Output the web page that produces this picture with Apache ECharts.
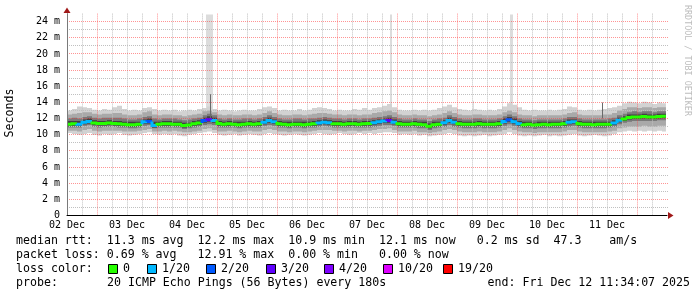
<!DOCTYPE html>
<html><head><meta charset="utf-8">
<script src="https://cdn.jsdelivr.net/npm/echarts@6.0.0/dist/echarts.min.js"></script>
<style>html,body{margin:0;padding:0;background:#fff}#c{width:697px;height:297px}</style>
</head><body><div id="c"></div>
<script>
// ---- data (hours since 02 Dec 00:00; values in ms) ----
const startHour = 12;
const stepHours = 2;
const endHour = 251.57;
const xTickLabels = ['02 Dec','03 Dec','04 Dec','05 Dec','06 Dec','07 Dec','08 Dec','09 Dec','10 Dec','11 Dec'];
const yTickValues = [0,2,4,6,8,10,12,14,16,18,20,22,24];

const medianRtt = [
11.3,11.35,11.3,11.55,11.65,11.45,11.4,11.4,11.45,11.4,
11.35,11.3,11.25,11.25,11.3,11.6,11.65,11.15,11.3,11.35,
11.35,11.3,11.3,11.15,11.2,11.35,11.45,11.75,11.85,11.75,
11.4,11.3,11.35,11.3,11.25,11.3,11.35,11.3,11.35,11.55,
11.75,11.6,11.35,11.3,11.25,11.3,11.3,11.25,11.3,11.35,
11.45,11.55,11.5,11.35,11.35,11.3,11.35,11.35,11.3,11.35,
11.4,11.5,11.6,11.7,11.75,11.55,11.35,11.3,11.3,11.35,
11.3,11.25,11.05,11.25,11.3,11.5,11.75,11.55,11.35,11.3,
11.3,11.3,11.35,11.3,11.3,11.3,11.35,11.65,11.85,11.6,
11.35,11.25,11.3,11.2,11.25,11.3,11.25,11.3,11.3,11.35,
11.55,11.6,11.35,11.3,11.3,11.25,11.3,11.3,11.3,11.45,
11.8,11.95,12.15,12.2,12.2,12.25,12.2,12.2,12.25,12.3];

const lossIdx = [
0,0,1,1,1,0,0,0,0,0,
0,0,0,0,0,1,2,1,0,0,
0,0,0,0,0,0,0,2,3,1,
0,0,0,0,0,0,0,0,0,1,
1,1,0,0,0,0,0,0,0,0,
1,1,1,0,0,0,0,0,0,0,
0,1,1,1,3,1,0,0,0,0,
0,0,0,0,0,1,1,1,0,0,
0,0,0,0,0,0,0,1,2,1,
1,0,0,0,0,0,0,0,0,0,
1,1,0,0,0,0,0,0,0,1,
1,0,0,0,0,0,0,0,0,0];

const lossColors = ['#26ff00','#00b8ff','#0059ff','#5e00ff','#7e00ff','#dd00ff','#ff0000'];
const lossLabels = ['0','1/20','2/20','3/20','4/20','10/20','19/20'];

const smokeHi1 = [
13.0,13.2,13.5,13.4,13.3,13.1,13.0,13.2,13.1,13.4,
13.6,13.2,13.0,13.1,13.0,13.3,13.4,13.2,13.0,13.1,
13.0,13.1,12.9,13.0,13.1,13.0,13.2,13.3,13.5,13.2,
13.0,13.1,13.0,12.9,13.0,13.1,13.0,13.0,13.2,13.4,
13.5,13.3,13.0,13.1,13.0,13.0,13.2,13.0,13.1,13.3,
13.4,13.3,13.2,13.0,13.1,13.0,13.0,13.2,13.1,13.3,
13.1,13.3,13.4,13.6,13.8,13.4,13.1,13.0,13.0,13.1,
13.0,13.1,13.0,13.1,13.3,13.5,13.7,13.4,13.2,13.1,
13.0,13.2,13.1,13.0,13.1,13.0,13.2,13.5,13.9,13.7,
13.4,13.1,13.0,13.1,13.0,13.0,13.1,13.0,13.1,13.2,
13.5,13.4,13.1,13.0,13.1,13.0,13.1,13.2,13.3,13.4,
13.6,13.9,14.1,14.0,13.9,14.1,14.0,13.8,14.0,13.9];
const smokeLo1 = [
10.2,10.1,10.0,10.1,10.2,10.0,9.9,10.1,10.0,10.1,
10.2,10.0,9.9,10.0,10.1,10.2,10.3,10.1,10.0,10.1,
10.0,10.1,9.9,9.8,10.0,10.1,10.2,10.3,10.4,10.2,
10.0,9.9,10.0,10.1,9.9,10.0,10.1,10.0,9.9,10.1,
10.2,10.1,10.0,9.9,10.0,10.1,10.0,9.9,10.0,10.1,
10.2,10.1,10.0,10.1,10.2,10.1,10.0,10.1,10.2,10.1,
10.2,10.1,10.2,10.3,10.3,10.2,10.0,10.1,10.0,10.1,
9.9,10.0,9.8,9.9,10.0,10.1,10.2,10.1,9.9,9.8,
9.9,9.8,9.9,10.0,9.8,9.9,10.0,10.1,10.3,10.1,
9.9,9.8,9.9,9.8,9.9,10.0,9.8,9.9,9.8,9.9,
10.0,10.1,9.9,9.8,9.9,10.0,9.9,9.8,9.9,10.1,
10.3,10.4,10.5,10.4,10.5,10.4,10.5,10.4,10.5,10.4];
const smokeHi2 = [
12.5,12.6,12.7,12.8,12.8,12.6,12.5,12.6,12.6,12.7,
12.7,12.5,12.4,12.4,12.5,12.8,12.9,12.5,12.4,12.5,
12.5,12.4,12.4,12.3,12.4,12.5,12.6,12.9,13.0,12.8,
12.5,12.4,12.5,12.4,12.4,12.5,12.5,12.4,12.5,12.7,
12.9,12.7,12.5,12.4,12.4,12.5,12.5,12.4,12.5,12.6,
12.7,12.7,12.6,12.5,12.5,12.4,12.5,12.5,12.4,12.5,
12.5,12.7,12.8,12.9,13.0,12.8,12.5,12.4,12.4,12.5,
12.4,12.4,12.3,12.4,12.5,12.7,12.9,12.7,12.5,12.4,
12.4,12.5,12.5,12.4,12.4,12.4,12.5,12.8,13.0,12.8,
12.5,12.4,12.4,12.3,12.4,12.4,12.4,12.4,12.4,12.5,
12.7,12.8,12.5,12.4,12.4,12.4,12.4,12.5,12.5,12.7,
13.0,13.2,13.4,13.4,13.3,13.4,13.4,13.3,13.4,13.4];
const smokeLo2 = [
10.5,10.5,10.4,10.6,10.7,10.5,10.4,10.5,10.5,10.5,
10.5,10.4,10.4,10.4,10.5,10.6,10.7,10.4,10.4,10.5,
10.4,10.5,10.4,10.3,10.3,10.4,10.5,10.7,10.8,10.6,
10.4,10.4,10.5,10.4,10.3,10.4,10.5,10.4,10.4,10.6,
10.7,10.6,10.4,10.4,10.3,10.4,10.4,10.3,10.4,10.5,
10.6,10.6,10.6,10.5,10.5,10.4,10.5,10.5,10.4,10.5,
10.5,10.6,10.7,10.7,10.8,10.6,10.4,10.4,10.4,10.5,
10.3,10.3,10.2,10.3,10.4,10.6,10.7,10.6,10.4,10.3,
10.3,10.3,10.4,10.3,10.3,10.3,10.4,10.6,10.8,10.6,
10.4,10.3,10.3,10.2,10.3,10.3,10.3,10.3,10.3,10.4,
10.6,10.6,10.4,10.3,10.3,10.3,10.3,10.3,10.4,10.5,
10.8,10.9,11.0,11.0,11.0,11.1,11.0,11.0,11.1,11.1];
const smokeHi3 = [
12.0,12.1,12.0,12.2,12.3,12.1,12.0,12.1,12.1,12.1,
12.1,12.0,11.9,11.9,12.0,12.2,12.3,12.0,11.9,12.0,
12.0,12.0,11.9,11.8,11.9,12.0,12.1,12.4,12.6,12.4,
12.0,11.9,12.0,11.9,11.9,12.0,12.0,11.9,12.0,12.2,
12.4,12.2,12.0,11.9,11.9,12.0,12.0,11.9,12.0,12.0,
12.1,12.2,12.1,12.0,12.0,11.9,12.0,12.0,11.9,12.0,
12.0,12.1,12.2,12.3,12.4,12.2,12.0,11.9,11.9,12.0,
11.9,11.9,11.7,11.9,12.0,12.1,12.4,12.2,12.0,11.9,
11.9,12.0,12.0,11.9,11.9,11.9,12.0,12.3,12.5,12.3,
12.0,11.9,11.9,11.8,11.9,11.9,11.9,11.9,11.9,12.0,
12.2,12.2,12.0,11.9,11.9,11.9,11.9,11.9,12.0,12.1,
12.4,12.6,12.8,12.9,12.8,12.9,12.9,12.8,12.9,12.9];
const smokeLo3 = [
10.9,10.9,10.9,11.1,11.2,11.0,10.9,11.0,11.0,11.0,
10.9,10.9,10.8,10.8,10.9,11.1,11.2,10.8,10.9,10.9,
10.9,10.9,10.9,10.7,10.8,10.9,11.0,11.2,11.3,11.2,
10.9,10.9,10.9,10.9,10.8,10.9,10.9,10.9,10.9,11.1,
11.2,11.1,10.9,10.9,10.8,10.9,10.9,10.8,10.9,10.9,
11.0,11.1,11.0,10.9,10.9,10.9,10.9,10.9,10.9,10.9,
10.9,11.0,11.1,11.2,11.2,11.1,10.9,10.9,10.9,10.9,
10.8,10.8,10.6,10.8,10.9,11.0,11.2,11.0,10.9,10.8,
10.8,10.8,10.9,10.8,10.8,10.8,10.9,11.1,11.3,11.1,
10.9,10.8,10.8,10.7,10.8,10.8,10.8,10.8,10.8,10.9,
11.0,11.1,10.9,10.8,10.8,10.8,10.8,10.8,10.9,11.0,
11.3,11.5,11.6,11.7,11.7,11.7,11.7,11.7,11.8,11.8];
const smokeHi4 = [
11.7,11.7,11.7,11.9,12.0,11.8,11.7,11.7,11.8,11.7,
11.7,11.6,11.6,11.6,11.6,11.9,12.0,11.6,11.6,11.7,
11.7,11.6,11.6,11.5,11.5,11.7,11.8,12.1,12.3,12.1,
11.7,11.6,11.7,11.6,11.6,11.6,11.7,11.6,11.7,11.9,
12.1,11.9,11.7,11.6,11.6,11.6,11.6,11.6,11.6,11.7,
11.8,11.9,11.8,11.7,11.7,11.6,11.7,11.7,11.6,11.7,
11.7,11.8,11.9,12.0,12.1,11.9,11.7,11.6,11.6,11.7,
11.6,11.6,11.4,11.6,11.6,11.8,12.1,11.9,11.7,11.6,
11.6,11.6,11.7,11.6,11.6,11.6,11.7,12.0,12.2,12.0,
11.7,11.6,11.6,11.5,11.6,11.6,11.6,11.6,11.6,11.7,
11.9,11.9,11.7,11.6,11.6,11.6,11.6,11.6,11.6,11.8,
12.1,12.3,12.5,12.5,12.5,12.6,12.5,12.5,12.6,12.6];
const smokeLo4 = [
11.05,11.1,11.05,11.3,11.4,11.2,11.15,11.15,11.2,11.15,
11.1,11.05,11.0,11.0,11.05,11.35,11.4,10.9,11.05,11.1,
11.1,11.05,11.05,10.9,10.95,11.1,11.2,11.5,11.6,11.5,
11.15,11.05,11.1,11.05,11.0,11.05,11.1,11.05,11.1,11.3,
11.5,11.35,11.1,11.05,11.0,11.05,11.05,11.0,11.05,11.1,
11.2,11.3,11.25,11.1,11.1,11.05,11.1,11.1,11.05,11.1,
11.15,11.25,11.35,11.45,11.5,11.3,11.1,11.05,11.05,11.1,
11.05,11.0,10.8,11.0,11.05,11.25,11.5,11.3,11.1,11.05,
11.05,11.05,11.1,11.05,11.05,11.05,11.1,11.4,11.6,11.35,
11.1,11.0,11.05,10.95,11.0,11.05,11.0,11.05,11.05,11.1,
11.3,11.35,11.1,11.05,11.05,11.0,11.05,11.05,11.05,11.2,
11.55,11.7,11.9,11.95,11.95,12.0,11.95,11.95,12.0,12.05];

// single-column outliers (hours start/end, low/high ms)
const paleSpikeStart = [67.6, 141.2, 189.2, 174.4];
const paleSpikeEnd   = [70.4, 142.0, 190.4, 174.8];
const paleSpikeTop   = [24.9, 24.9, 24.9, 14.2];
const darkSpikeStart = [69.2, 226.0];
const darkSpikeEnd   = [69.6, 226.4];
const darkSpikeTop   = [15.0, 14.0];

// ---- chart ----
const GRID = {left: 67, top: 13.6, width: 600, height: 201.9};
const smokeColors = ['#d2d2d2', '#a9a9a9', '#797979', '#414141'];
const gridGray = '#c0c0c0', gridRed = '#ff3c3c';
const monoFont = 'DejaVu Sans Mono';

function blockTimes(i) {
  const t0 = startHour + i * stepHours;
  return [t0, Math.min(t0 + stepHours, endHour)];
}
function bandData(lo, hi) {
  return lo.map((v, i) => { const t = blockTimes(i); return [t[0], t[1], v, hi[i]]; });
}
function rectRenderer(color) {
  return function (params, api) {
    const a = api.coord([api.value(0), api.value(3)]);
    const b = api.coord([api.value(1), api.value(2)]);
    return {type: 'rect', shape: {x: a[0], y: a[1], width: b[0] - a[0], height: b[1] - a[1]},
            style: {fill: color}};
  };
}
function rectSeries(data, color, z) {
  return {type: 'custom', data: data, renderItem: rectRenderer(color), clip: true, z: z,
          encode: {x: [0, 1], y: [2, 3]}, silent: true, animation: false};
}

const series = [];
series.push(rectSeries(paleSpikeStart.map((s, i) => [s, paleSpikeEnd[i], 12.5, paleSpikeTop[i]]), '#dcdcdc', 1));
series.push(rectSeries(bandData(smokeLo1, smokeHi1), smokeColors[0], 2));
series.push(rectSeries(bandData(smokeLo2, smokeHi2), smokeColors[1], 2));
series.push(rectSeries(bandData(smokeLo3, smokeHi3), smokeColors[2], 2));
series.push(rectSeries(bandData(smokeLo4, smokeHi4), smokeColors[3], 2));
series.push(rectSeries(darkSpikeStart.map((s, i) => [s, darkSpikeEnd[i], 12.0, darkSpikeTop[i]]), '#6a6a6a', 3));

// grid lines (drawn above the smoke, below the median line)
const xGridTicks = [], yGridTicks = [];
for (let h = 18; h < 252; h += 6) xGridTicks.push([h, 0, h % 24 === 0 ? 1 : 0]);
for (let v = 1; v <= 24; v++) yGridTicks.push([startHour, v, v % 2 === 0 ? 1 : 0]);
function gridSeries(data, vertical, color, opacity) {
  return {
    type: 'custom', data: data, z: 5, silent: true, animation: false, clip: false,
    encode: {x: 0, y: 1},
    renderItem: function (params, api) {
      const cs = params.coordSys;
      const p = api.coord([api.value(0), api.value(1)]);
      if (vertical) {
        const x = Math.floor(p[0]) + 0.5;
        return {type: 'line', shape: {x1: x, y1: cs.y, x2: x, y2: cs.y + cs.height},
                style: {stroke: color, lineWidth: 1, lineDash: [1, 1], opacity: opacity}};
      }
      const y = Math.floor(p[1]) + 0.5;
      return {type: 'line', shape: {x1: cs.x, y1: y, x2: cs.x + cs.width + 1, y2: y},
              style: {stroke: color, lineWidth: 1, lineDash: [1, 1], opacity: opacity}};
    }
  };
}
series.push(gridSeries(xGridTicks.filter(d => !d[2]), true, gridGray, 1));
series.push(gridSeries(yGridTicks.filter(d => !d[2]), false, gridGray, 1));
series.push(gridSeries(xGridTicks.filter(d => d[2]), true, gridRed, 0.55));
series.push(gridSeries(yGridTicks.filter(d => d[2]), false, gridRed, 0.55));

const medianData = medianRtt.map((m, i) => {
  const t = blockTimes(i);
  return [t[0], t[1], m, i > 0 ? medianRtt[i - 1] : m, lossIdx[i]];
});
series.push({
  type: 'custom', data: medianData, clip: true, z: 10, silent: true, animation: false,
  encode: {x: [0, 1], y: [2]},
  renderItem: function (params, api) {
    const a = api.coord([api.value(0), api.value(2)]);
    const b = api.coord([api.value(1), api.value(2)]);
    const p = api.coord([api.value(0), api.value(3)]);
    return {type: 'polyline', shape: {points: [[a[0], p[1]], [a[0], a[1]], [b[0], b[1]]]},
            style: {stroke: lossColors[api.value(4)], lineWidth: 3, fill: null, lineJoin: 'miter'}};
  }
});

// legend / text graphics
const textStyle = (txt, x, y, extra) => ({
  type: 'text', x: x, y: y, silent: true,
  style: Object.assign({text: txt, font: '11.6px ' + monoFont, fill: '#000',
    align: 'left', verticalAlign: 'middle', textAlign: 'left', textVerticalAlign: 'middle'}, extra || {})
});
const graphics = [];
const rowY = [241, 255, 269, 283];
graphics.push(textStyle('median rtt:  11.3 ms avg  12.2 ms max  10.9 ms min  12.1 ms now   0.2 ms sd  47.3    am/s', 16, rowY[0]));
graphics.push(textStyle('packet loss: 0.69 % avg   12.91 % max  0.00 % min   0.00 % now', 16, rowY[1]));
graphics.push(textStyle('loss color:', 16, rowY[2]));
const squareX = [108, 147, 206, 266, 324, 383, 443];
lossLabels.forEach((lab, k) => {
  graphics.push({type: 'rect', silent: true, shape: {x: squareX[k] + 0.5, y: rowY[2] - 4.5, width: 9, height: 9},
                 style: {fill: lossColors[k], stroke: '#000', lineWidth: 1}});
  graphics.push(textStyle(lab, squareX[k] + 15, rowY[2]));
});
graphics.push(textStyle('probe:', 16, rowY[3]));
graphics.push(textStyle('20 ICMP Echo Pings (56 Bytes) every 180s', 107, rowY[3]));
graphics.push(textStyle('end: Fri Dec 12 11:34:07 2025', 690, rowY[3], {align: 'right', textAlign: 'right'}));
graphics.push({type: 'text', x: 10, y: 113, rotation: Math.PI / 2, silent: true,
  style: {text: 'Seconds', font: '11.6px ' + monoFont, fill: '#000', align: 'center', verticalAlign: 'middle',
          textAlign: 'center', textVerticalAlign: 'middle'}});
graphics.push({type: 'text', x: 687, y: 5, rotation: -Math.PI / 2, silent: true,
  style: {text: 'RRDTOOL / TOBI OETIKER', font: '8.4px ' + monoFont, fill: '#bdbdbd', align: 'left', verticalAlign: 'middle',
          textAlign: 'left', textVerticalAlign: 'middle'}});
// axis arrows
const axisY = GRID.top + GRID.height, axisX = GRID.left;
graphics.push({type: 'polygon', silent: true, z: 100,
  shape: {points: [[axisX - 3.5, 13], [axisX + 3.5, 13], [axisX, 7.5]]}, style: {fill: '#a01818'}});
graphics.push({type: 'polygon', silent: true, z: 100,
  shape: {points: [[668, axisY - 3.5], [668, axisY + 3.5], [673.5, axisY]]}, style: {fill: '#a01818'}});

const chart = echarts.init(document.getElementById('c'), null, {renderer: 'canvas'});
chart.setOption({
  backgroundColor: '#ffffff',
  animation: false,
  grid: GRID,
  xAxis: {
    type: 'value', min: 12, max: 252, interval: 6, z: 12,
    axisLine: {show: true, onZero: false, lineStyle: {color: '#000', width: 1}},
    axisTick: {show: false},
    axisLabel: {
      margin: 5, color: '#000', fontFamily: monoFont, fontSize: 10, showMinLabel: true, showMaxLabel: true,
      formatter: function (v) {
        const k = (v - startHour) / 24;
        return (Number.isInteger(k) && k >= 0 && k < xTickLabels.length) ? xTickLabels[k] : '';
      }
    },
    splitLine: {show: false}
  },
  yAxis: {
    type: 'value', min: 0, max: 25, interval: 1, z: 12,
    axisLine: {show: true, lineStyle: {color: '#7a7a7a', width: 1}},
    axisTick: {show: false},
    axisLabel: {
      margin: 7, color: '#000', fontFamily: monoFont, fontSize: 10,
      formatter: function (v) {
        if (yTickValues.indexOf(v) < 0) return '';
        return v === 0 ? '0' : v + ' m';
      }
    },
    splitLine: {show: false}
  },
  series: series,
  graphic: {elements: graphics}
});
</script></body></html>
